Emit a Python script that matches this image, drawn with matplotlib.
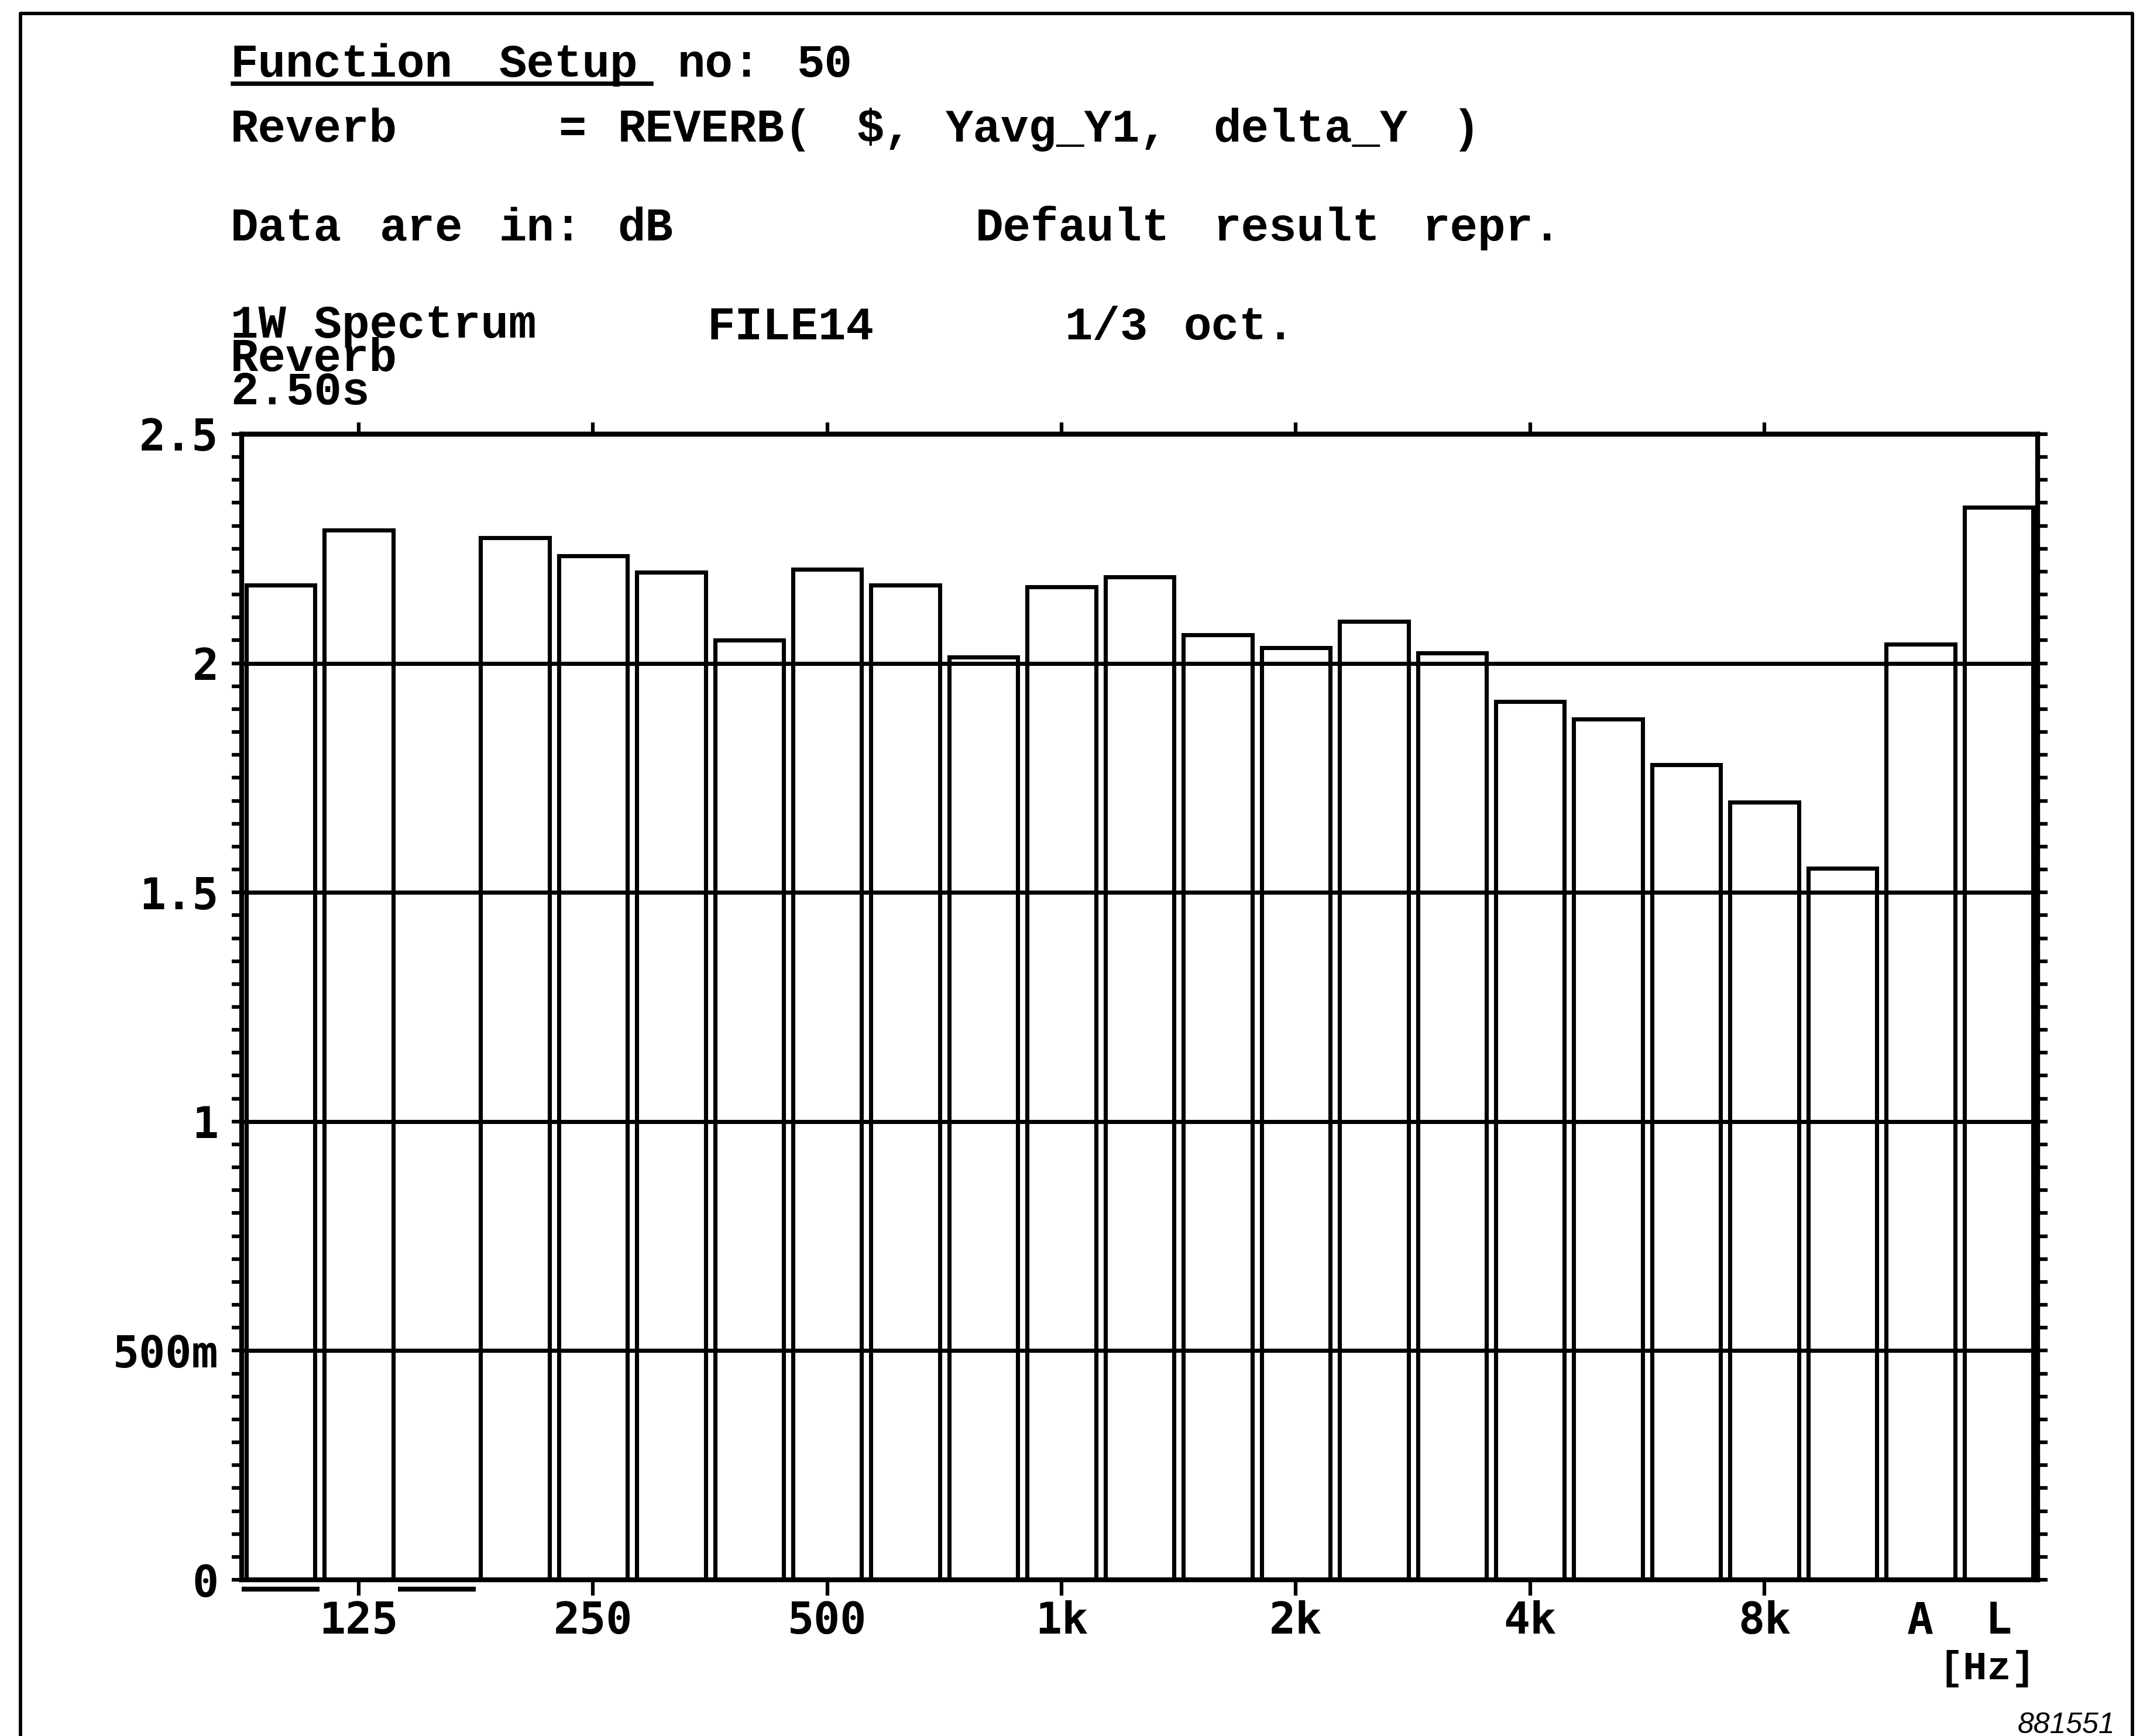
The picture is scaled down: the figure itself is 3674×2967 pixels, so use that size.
import re
import numpy as np
import matplotlib
matplotlib.use("Agg")
from matplotlib import pyplot as plt
from matplotlib.ticker import MultipleLocator
from matplotlib.lines import Line2D

# 1/3 octave bands + the two broadband bars (A and L)
bands = ["100", "125", "160", "200", "250", "315", "400", "500", "630", "800",
         "1k", "1.25k", "1.6k", "2k", "2.5k", "3.15k", "4k", "5k", "6.3k", "8k",
         "10k", "A", "L"]

# Reverberation time per band [s] (160 Hz has no bar)
reverb = [2.171, 2.291, 0.0, 2.274, 2.234, 2.199, 2.051, 2.205, 2.170, 2.014,
          2.167, 2.188, 2.062, 2.034, 2.092, 2.023, 1.916, 1.878, 1.779, 1.697,
          1.553, 2.042, 2.341]

# bands that are underlined below the baseline
flagged = ["100", "160"]

# labelled x ticks
tick_bands = ["125", "250", "500", "1k", "2k", "4k", "8k"]
extra_bands = ["A", "L"]

y_ticks = [0, 0.5, 1.0, 1.5, 2.0, 2.5]
y_labels = ["0", "500m", "1", "1.5", "2", "2.5"]

# header block, laid out on a fixed character grid like the plotter output
header = [
    "Function Setup no: 50",
    "Reverb     = REVERB( $, Yavg_Y1, delta_Y )",
    "Data are in: dB          Default result repr.",
    "                FILE14      1/3 oct.",
]
# the three stacked lines at the left are one block
stacked = "1W Spectrum\nReverb\n2.50s"

W, H = 3674, 2967
DPI = 300
fig = plt.figure(figsize=(W / DPI, H / DPI), dpi=DPI)

tick_font = dict(family="DejaVu Sans Mono", weight="bold", size=18)
head_font = dict(family="Liberation Mono", weight="bold", size=19)

# plot area in pixels: left 413, right 3482, top 742, bottom 2700
ax = fig.add_axes([413 / W, 1 - 2700 / H, (3482 - 413) / W, (2700 - 742) / H])

x = np.arange(len(bands))
ax.bar(x, reverb, width=0.88, facecolor="none", edgecolor="black",
       linewidth=1.7, zorder=3)

# underlines under flagged bands
for b in flagged:
    i = bands.index(b)
    ax.hlines(-0.02, i - 0.5, i + 0.5, color="black", linewidth=2.0, clip_on=False)

ax.set_xlim(-0.5, len(bands) - 0.5)
ax.set_ylim(0, 2.5)

ax.set_yticks(y_ticks)
ax.set_yticklabels(y_labels, fontdict=tick_font)
ax.yaxis.set_minor_locator(MultipleLocator(0.05))
ax.yaxis.grid(True, which="major", color="black", linewidth=1.7)
ax.tick_params(axis="y", which="both", direction="out", length=4, width=1.5,
               left=True, right=True, pad=5.5)

tick_pos = [bands.index(b) for b in tick_bands]
ax.set_xticks(tick_pos)
ax.set_xticklabels(tick_bands, fontdict=tick_font)
ax.set_xticks([bands.index(b) for b in extra_bands], minor=True)
ax.set_xticklabels(extra_bands, minor=True, fontdict=tick_font)
ax.tick_params(axis="x", which="major", direction="out", length=6.5, width=1.5, pad=2)
ax.tick_params(axis="x", which="minor", length=0, pad=8.5)

# small ticks on top of the frame
top = ax.secondary_xaxis("top")
top.set_xticks(tick_pos)
top.set_xticklabels([])
top.tick_params(direction="out", length=4.8, width=1.5)
top.spines["top"].set_linewidth(2.0)

for s in ax.spines.values():
    s.set_linewidth(2.0)
    s.set_color("black")

# header text, each word on its character column
x0 = 394 / W
pitch = 50.9 / W
baselines = [131, 242, 411, 580]
for line, yb in zip(header, baselines):
    for m in re.finditer(r"\S+", line):
        fig.text(x0 + m.start() * pitch, 1 - yb / H, m.group(), ha="left",
                 va="baseline", fontdict=head_font)

fig.text(x0, 1 - 691 / H, stacked, ha="left", va="baseline",
         linespacing=0.69, fontdict=head_font)

# underline under "Function Setup"
fig.add_artist(Line2D([398 / W, 1113 / W], [1 - 143 / H, 1 - 143 / H],
                      color="black", linewidth=1.8))

fig.text(3478 / W, 1 - 2870 / H, "[Hz]", ha="right", va="baseline",
         family="Liberation Mono", weight="bold", size=16.5)

fig.text(3614 / W, 1 - 2962 / H, "881551", ha="right", va="baseline",
         family="Liberation Sans", style="italic", size=12)

# outer page frame (left, top, right)
fl, fr, ft = 35 / W, 3644 / W, 1 - 23 / H
fig.add_artist(Line2D([fl, fl, fr, fr], [0, ft, ft, 0], color="black", linewidth=1.4))

fig.savefig("out.png", dpi=DPI)
